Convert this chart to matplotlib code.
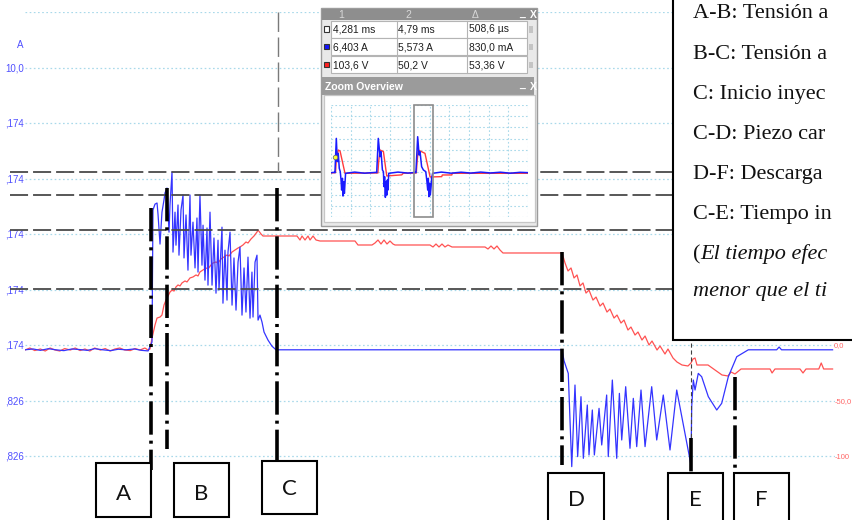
import numpy as np
import matplotlib
matplotlib.use("Agg")
import matplotlib.pyplot as plt
from matplotlib.patches import Rectangle

plt.rcParams['lines.scale_dashes'] = False
plt.rcParams['font.family'] = ['DejaVu Sans']

UI_FONT = ['Liberation Sans Narrow', 'Liberation Sans', 'DejaVu Sans']
SERIF = ['Liberation Serif', 'DejaVu Serif']
BOX_FONT = ['Lato', 'Open Sans', 'DejaVu Sans']

# ---------------------------------------------------------------- data
# Injector current: (time in µs from the start of the view, current in A)
current_trace = [
    (0, 0.00), (10, 0.03), (19, -0.02), (29, 0.04), (38, 0.00), (48, -0.03),
    (58, 0.03), (67, 0.01), (77, -0.02), (86, 0.04), (96, 0.00), (106, -0.03),
    (115, 0.02), (125, 0.00), (135, 0.03), (144, -0.02), (152, -0.04),
    (156.8, 0.28), (158.0, 5.04), (160.5, 5.25), (163.0, 5.29), (164.2, 4.89),
    (166.7, 3.81), (169.1, 4.96), (171.6, 5.40), (172.8, 5.65), (175.3, 5.83),
    (177.8, 4.24), (179.0, 5.22), (181.5, 6.41), (182.7, 3.52), (185.2, 4.96),
    (186.4, 3.77), (188.9, 5.22), (190.1, 3.41), (192.6, 5.04), (195.1, 5.58),
    (196.3, 3.31), (198.8, 4.86), (201.2, 2.87), (203.7, 5.58), (204.9, 3.41),
    (207.4, 4.60), (209.9, 2.95), (212.3, 4.75), (213.6, 2.80), (216.0, 5.58),
    (218.5, 3.05), (219.8, 4.49), (222.2, 2.51), (224.7, 4.39), (225.9, 2.33),
    (228.4, 4.96), (230.9, 2.33), (233.3, 4.03), (235.8, 2.04), (238.3, 3.95),
    (239.5, 2.15), (243.2, 4.42), (244.4, 1.68), (246.9, 3.59), (249.4, 1.79),
    (250.6, 3.52), (253.1, 4.24), (255.6, 1.61), (258.0, 3.31), (260.5, 1.43),
    (263.0, 3.16), (265.4, 3.70), (267.9, 1.25), (270.4, 2.95), (272.8, 1.36),
    (275.3, 3.34), (277.8, 1.14), (280.2, 2.80), (281.5, 1.18), (284.0, 3.16),
    (286.4, 3.41), (287.7, 1.07), (290.1, 1.25), (292.6, 1.00), (295.1, 0.64),
    (300.0, 0.35), (304.9, 0.13), (309.9, 0.00), (314.8, 0.00),
    (663.0, 0.00), (665.5, -0.40), (670.7, -0.85), (675.0, -4.21), (679.0, -1.27),
    (682.3, -3.85), (686.4, -1.69), (689.3, -3.91), (694.2, -1.99), (696.3, -3.79),
    (700.4, -2.17), (702.9, -3.79), (708.7, -2.11), (712.0, -3.43), (718.1, -1.63),
    (720.1, -3.85), (725.1, -1.09), (730.5, -3.91), (733.8, -1.57), (736.7, -3.25),
    (741.6, -1.33), (746.9, -3.55), (751.0, -1.75), (755.2, -3.49), (760.5, -1.45),
    (765.5, -3.49), (773.7, -1.33), (779.9, -3.25), (788.0, -1.63), (796.3, -3.61),
    (804.6, -1.45), (822.2, -4.15), (823.1, -2.04), (825.1, -1.09), (827.2, -1.45),
    (831.2, -0.85), (835.4, -0.97), (843.6, -1.69), (854.0, -2.17), (860.1, -1.93),
    (868.3, -0.97), (878.7, -0.25), (893.0, 0.00), (928.0, 0.00), (931.0, 0.10),
    (934.0, 0.00), (997.0, 0.00),
]

# Injector voltage: (time in µs, voltage in V)
voltage_trace = [
    (0, -4.5), (6, -2.7), (12, -5.0), (19, -3.6), (25, -5.4), (31, -2.7),
    (37, -4.5), (43, -5.4), (49, -3.2), (56, -4.5), (62, -2.7), (68, -5.0),
    (74, -3.6), (80, -5.4), (86, -2.7), (93, -4.5), (99, -3.2), (105, -5.4),
    (111, -3.6), (117, -2.7), (123, -4.5), (130, -5.0), (136, -3.2), (142, -4.5),
    (148, -2.7), (151.9, -4.5), (154.3, -3.6),
    (156.8, 6.3), (160.5, 18.0), (163.0, 24.3), (166.7, 25.2), (169.1, 27.0),
    (171.6, 36.0), (174.1, 40.5), (176.5, 44.1), (179.0, 47.7), (181.5, 49.5),
    (184.0, 48.6), (186.4, 52.3), (188.9, 54.1), (191.4, 53.2), (193.8, 55.9),
    (197.5, 57.7), (200.0, 56.8), (203.7, 60.4), (207.4, 61.3), (211.1, 63.1),
    (213.6, 62.2), (216.0, 65.8), (219.8, 67.6), (223.5, 69.4), (225.9, 68.5),
    (229.6, 72.1), (232.1, 73.9), (235.8, 74.8), (238.3, 73.9), (242.0, 77.5),
    (245.7, 79.3), (249.4, 81.1), (251.9, 80.2), (255.6, 83.8), (259.3, 85.6),
    (263.0, 87.4), (265.4, 88.3), (269.1, 90.1), (272.8, 92.8), (275.3, 91.9),
    (279.0, 95.5), (282.7, 98.2), (286.4, 101.8), (287.7, 103.6), (291.4, 100.0),
    (293.8, 98.2), (312.3, 98.2), (321.0, 98.2), (335.8, 98.2), (339.5, 94.6),
    (342.0, 98.2), (345.7, 94.6), (349.4, 98.2), (351.9, 94.6), (355.6, 98.2),
    (359.3, 94.6), (364.2, 93.7), (367.9, 93.7), (407.4, 93.7), (411.1, 90.1),
    (428.4, 90.1), (432.1, 91.9), (435.8, 94.6), (439.5, 91.0), (443.2, 94.6),
    (446.9, 91.0), (450.6, 93.7), (454.3, 91.0), (456.8, 90.1), (500.0, 90.1),
    (503.7, 88.3), (507.4, 91.0), (511.1, 88.3), (514.8, 91.0), (518.5, 88.3),
    (522.2, 90.1), (527.2, 88.3), (567.9, 88.3), (571.6, 86.5), (575.3, 89.2),
    (579.0, 86.5), (582.7, 89.2), (586.4, 85.6), (590.1, 82.9), (660.5, 82.9),
    (663.0, 82.9), (666.7, 73.9), (670.4, 66.7), (674.1, 69.4), (677.8, 60.4),
    (681.5, 63.1), (685.2, 53.2), (688.9, 55.9), (692.6, 46.8), (696.3, 49.5),
    (701.2, 40.5), (705.0, 43.2), (709.9, 35.1), (713.6, 37.8), (718.5, 29.7),
    (722.2, 32.4), (727.2, 24.3), (730.9, 27.0), (735.8, 19.8), (739.5, 22.5),
    (744.4, 13.5), (748.1, 16.2), (753.1, 9.0), (756.8, 11.7), (761.7, 4.5),
    (765.5, 8.1), (770.4, 0.0), (774.1, 3.6), (780.3, -4.5), (784.0, -0.9),
    (790.1, -8.1), (793.8, -3.6), (800.0, -11.7), (804.9, -15.3), (811.1, -18.0),
    (818.5, -18.9), (822.2, -16.2), (824.7, -12.6), (827.2, -11.7), (829.6, -18.0),
    (843.2, -18.0), (851.9, -22.5), (860.5, -27.0), (867.9, -27.9), (871.6, -24.3),
    (876.5, -26.1), (884.0, -21.6), (901.3, -21.6), (919.8, -21.6), (922.3, -25.2),
    (925.9, -21.6), (956.8, -21.6), (960.5, -25.2), (964.2, -21.6), (980.0, -21.6),
    (983.0, -16.2), (986.0, -21.6), (997.0, -21.6),
]

# Cursor readings
cursor_current = [6.403, 5.573]
cursor_voltage = [103.6, 50.2]
cursor_time = 312.3

# Phase markers: label, time (µs), vertical span (A)
marker_labels = ['A', 'B', 'C', 'D', 'E', 'F']
marker_times = [155.6, 175.3, 311.1, 663.0, 822.2, 876.5]
marker_spans = [(5.11, -4.33), (5.83, -3.57), (5.83, -3.97),
                (3.52, -4.15), (-3.17, -4.62), (-0.98, -4.26)]
e_guide_span = (0.25, -3.17)

# Axis scales and tick labels
current_ticks = [12.174, 10.174, 8.174, 6.174, 4.174, 2.174, 0.174, -1.826, -3.826]
current_labels = ['', '10,0', ',174', ',174', ',174', ',174', ',174', ',826', ',826']
voltage_ticks = [300, 250, 200, 150, 100, 50, 0, -50, -100]
voltage_labels = ['', '', '', '', '', '', '0,0', '-50,0', '-100']
time_ticks = [0, 100, 200, 300, 400, 500, 600, 700, 800, 900, 1000]

# Measurement readout table
table_header = ['1', '2', 'Δ']
table_rows = [['4,281 ms', '4,79 ms', '508,6 µs'],
              ['6,403 A', '5,573 A', '830,0 mA'],
              ['103,6 V', '50,2 V', '53,36 V']]
table_swatches = ['white', '#1414ff', '#ff2020']

# Zoom overview: (time in ms, scaled amplitude)
overview_current = [
    (0.0, 0.0), (0.19, 0.03), (0.20, 0.0), (0.27, 3.09), (0.32, 0.99), (0.37, 1.74),
    (0.42, 0.39), (0.47, 0.09), (0.51, -0.66), (0.54, -1.57), (0.58, -0.51),
    (0.61, -2.11), (0.64, -0.81), (0.68, -1.87), (0.71, -0.96), (0.74, -0.06),
    (1.2, 0.05), (1.7, -0.05), (2.31, 0.03), (2.32, 0.0), (2.40, 3.09), (2.49, 1.44),
    (2.54, 1.89), (2.61, 0.24), (2.66, 0.09), (2.69, -1.26), (2.72, -0.36),
    (2.76, -2.23), (2.79, -0.81), (2.83, -2.02), (2.86, -0.66), (2.89, -1.57),
    (2.93, -0.06), (3.4, 0.05), (3.9, -0.04), (4.30, 0.02), (4.31, 0.0), (4.40, 3.24),
    (4.47, 1.59), (4.52, 1.89), (4.60, 0.54), (4.69, 0.24), (4.81, 0.09),
    (4.87, -0.81), (4.91, -1.57), (4.94, -0.51), (4.97, -2.17), (5.01, -0.96),
    (5.04, -2.02), (5.08, -1.26), (5.11, -0.51), (5.16, -0.06), (5.6, 0.05),
    (6.1, -0.05), (6.6, 0.04), (7.1, -0.04), (7.6, 0.05), (8.1, -0.03), (8.6, 0.04),
    (9.1, -0.05), (9.6, 0.03), (10.0, 0.0),
]
overview_voltage = [
    (0.0, -0.03), (0.23, 0.0), (0.27, 1.2), (0.37, 2.04), (0.46, 1.95), (0.71, -0.06),
    (2.38, -0.03), (2.42, 1.0), (2.49, 2.04), (2.66, 1.9), (2.83, -0.3), (3.59, -0.2),
    (3.67, -0.05), (4.33, -0.03), (4.37, 1.0), (4.43, 2.04), (4.77, 1.74),
    (5.03, -0.39), (5.62, -0.36), (5.65, -0.21), (6.13, -0.21), (6.16, -0.06),
    (10.0, -0.06),
]
overview_window = (4.21, 5.19)
overview_cursor = (0.20, 1.44)

# Notes panel (the panel runs past the right border of the figure)
notes = ['A-B: Tensión a',
         'B-C: Tensión a',
         'C: Inicio inyec',
         'C-D: Piezo car',
         'D-F: Descarga',
         'C-E: Tiempo in']
note_italic = ['El tiempo efec', 'menor que el ti']

# ---------------------------------------------------------------- layout
W, H, DPI = 852, 520, 100
BLUE = '#3434ff'
RED = '#ff5252'
GRID = '#a9d9ea'


def frac(x0, y0, x1, y1):
    """pixel box (top-left origin) -> figure fraction rect"""
    return [x0 / W, 1 - y1 / H, (x1 - x0) / W, (y1 - y0) / H]


fig = plt.figure(figsize=(W / DPI, H / DPI), dpi=DPI)
fig.patch.set_facecolor('white')

axi = fig.add_axes(frac(25, 12, 835, 470))   # current, left scale
axv = axi.twinx()                              # voltage, right scale
axv.set_zorder(1)
axi.set_zorder(2)
axi.patch.set_visible(False)
axv.patch.set_facecolor('white')

axi.set_xlim(0, 1000)
axi.set_ylim(-4.332, 12.174)
axv.set_ylim(-112.6, 300.0)

for a in (axi, axv):
    for s in a.spines.values():
        s.set_visible(False)

axi.set_xticks(time_ticks)
axi.tick_params(axis='x', length=0, labelbottom=False)
axi.set_yticks(current_ticks, current_labels, fontsize=7, color='#5050ff',
               fontfamily=UI_FONT)
axi.tick_params(axis='y', length=0, pad=1)
axv.set_yticks(voltage_ticks, voltage_labels, fontsize=5.5, color='#ff6666',
               fontfamily=UI_FONT)
axv.tick_params(axis='y', length=0, pad=-0.6)
axv.grid(True, axis='both', color=GRID, linestyle=(0, (1.2, 1.8)), linewidth=0.9)

ct, ci = zip(*current_trace)
vt, vv = zip(*voltage_trace)
axv.plot(vt, vv, color=RED, lw=0.9, zorder=3)
axi.plot(ct, ci, color=BLUE, lw=0.9, zorder=3)

# cursor lines
cur_style = dict(color='#4a4a4a', lw=1.3, linestyle=(0, (13, 3.6)), clip_on=False, zorder=4)
for c in cursor_current:
    axi.plot([-18.5, 805], [c, c], **cur_style)
for c in cursor_voltage:
    axi.plot([-18.5, 805], [c, c], transform=axv.transData, **cur_style)
axi.plot([cursor_time, cursor_time], [12.174, cursor_current[0]], color='#7a7a7a',
         lw=1.0, linestyle=(0, (14, 4)), zorder=4)

# phase markers
for t, (y0, y1) in zip(marker_times, marker_spans):
    axi.plot([t, t], [y0, y1], color='black', lw=2.6,
             linestyle=(0, (24, 4.3, 2.2, 4.3)), dash_capstyle='butt',
             clip_on=False, zorder=5)
axi.plot([marker_times[4]] * 2, list(e_guide_span), color='#404040', lw=0.8,
         linestyle=(0, (3, 2)), zorder=5)

# ---------------------------------------------------------------- overlay
ov = fig.add_axes([0, 0, 1, 1])
ov.set_zorder(3)
ov.set_xlim(0, W)
ov.set_ylim(H, 0)
ov.axis('off')
ov.patch.set_visible(False)

ov.text(20, 45.5, 'A', ha='center', va='center', fontsize=7, color='#5050ff',
        family=UI_FONT)

# readout / overview window
ov.add_patch(Rectangle((321, 8), 216, 218, fc='#e9e9e9', ec='#9c9c9c', lw=1.0))
ov.add_patch(Rectangle((321.5, 9), 215, 11, fc='#8e8e8e', ec='none'))
for txt, x in zip(table_header, (338, 405, 472)):
    ov.text(x, 15, txt, ha='left', va='center', fontsize=7.5, color='#d8d8d8',
            family=UI_FONT)
ov.text(519, 14, '_', ha='left', va='center', fontsize=7.5, color='white',
        family=UI_FONT, fontweight='bold')
ov.text(530, 15, 'X', ha='left', va='center', fontsize=7.5, color='white',
        family=UI_FONT, fontweight='bold')

row_top = [20.5, 38.3, 56.2]
for r, (vals, sw) in enumerate(zip(table_rows, table_swatches)):
    y0 = row_top[r]
    yc = y0 + 8.5
    ov.add_patch(Rectangle((330.5, y0), 196, 17, fc='white', ec='#b4b4b4', lw=0.8))
    for xs in (396.5, 466.5):
        ov.plot([xs, xs], [y0, y0 + 17], color='#b4b4b4', lw=0.8)
    ov.add_patch(Rectangle((324.3, yc - 2.6), 5, 5.2, fc=sw, ec='#333333', lw=0.8))
    for txt, x in zip(vals, (333, 398.5, 469)):
        ov.text(x, yc + 0.5, txt, ha='left', va='center', fontsize=7.4,
                color='#1e1e1e', family=UI_FONT)
    ov.add_patch(Rectangle((529, yc - 3), 4, 6.5, fc='#c4c4c4', ec='none'))

ov.add_patch(Rectangle((322, 77), 211.5, 18, fc='#9b9b9b', ec='none'))
ov.text(325, 86.5, 'Zoom Overview', ha='left', va='center', fontsize=7.6,
        color='white', family=UI_FONT, fontweight='bold')
ov.text(519, 85, '_', ha='left', va='center', fontsize=7.5, color='white',
        family=UI_FONT, fontweight='bold')
ov.text(530, 86.5, 'X', ha='left', va='center', fontsize=7.5, color='white',
        family=UI_FONT, fontweight='bold')
ov.add_patch(Rectangle((323.5, 95), 211, 127, fc='white', ec='#c6c6c6', lw=0.9))

# notes panel
ov.add_patch(Rectangle((673, -5), 200, 345, fc='white', ec='black', lw=1.5, zorder=6))
baselines = [18, 59, 99, 139, 179, 219]
for txt, yb in zip(notes, baselines):
    ov.text(693, yb, txt, ha='left', va='baseline', fontsize=16, color='#111111',
            family=SERIF, zorder=7)
ov.text(693, 259, '(', ha='left', va='baseline', fontsize=16, color='#111111',
        family=SERIF, zorder=7)
ov.text(700, 259, note_italic[0], ha='left', va='baseline', fontsize=16,
        color='#111111', family=SERIF, style='italic', zorder=7)
ov.text(693, 296, note_italic[1], ha='left', va='baseline', fontsize=16,
        color='#111111', family=SERIF, style='italic', zorder=7)

# label boxes for the phase markers
box_rects = [(96, 463, 55, 54), (174, 463, 55, 54), (262, 461, 55, 53),
             (548, 473, 56, 60), (668, 473, 55, 60), (734, 473, 55, 60)]
box_text_y = [494, 494, 489, 500, 500, 500]
for lab, (x, y, w, h), ty in zip(marker_labels, box_rects, box_text_y):
    p = Rectangle((x, y), w, h, fc='white', ec='black', lw=1.5, zorder=6)
    p.set_clip_on(True)
    ov.add_patch(p)
    ov.text(x + w / 2, ty, lab, ha='center', va='center', fontsize=16,
            color='#111111', family=BOX_FONT, zorder=7)

# ---------------------------------------------------------------- overview plot
axo = fig.add_axes(frac(331, 105, 528, 217))
axo.set_zorder(4)
axo.patch.set_visible(False)
axo.set_xlim(0, 10)
axo.set_ylim(-4, 6.1)
axo.set_xticks(np.arange(0, 11, 1))
axo.set_yticks(np.linspace(-4, 6.1, 11))
axo.tick_params(length=0, labelbottom=False, labelleft=False)
for s in axo.spines.values():
    s.set_visible(False)
axo.grid(True, color=GRID, linestyle=(0, (1.2, 1.6)), linewidth=0.8)
ot, oi = zip(*overview_current)
ovt, ovv = zip(*overview_voltage)
axo.plot(ovt, ovv, color='#ff3c3c', lw=1.0, zorder=3)
axo.plot(ot, oi, color='#1a1aff', lw=1.1, zorder=4)
axo.add_patch(Rectangle((overview_window[0], -4), overview_window[1] - overview_window[0],
                        10.1, fill=False, ec='#8c8c8c', lw=1.2, clip_on=False, zorder=5))
axo.plot([overview_cursor[0]], [overview_cursor[1]], 'o', ms=3.2, mfc='#ffff30',
         mec='#707070', mew=0.6, zorder=6)

fig.savefig('out.png', dpi=DPI)
